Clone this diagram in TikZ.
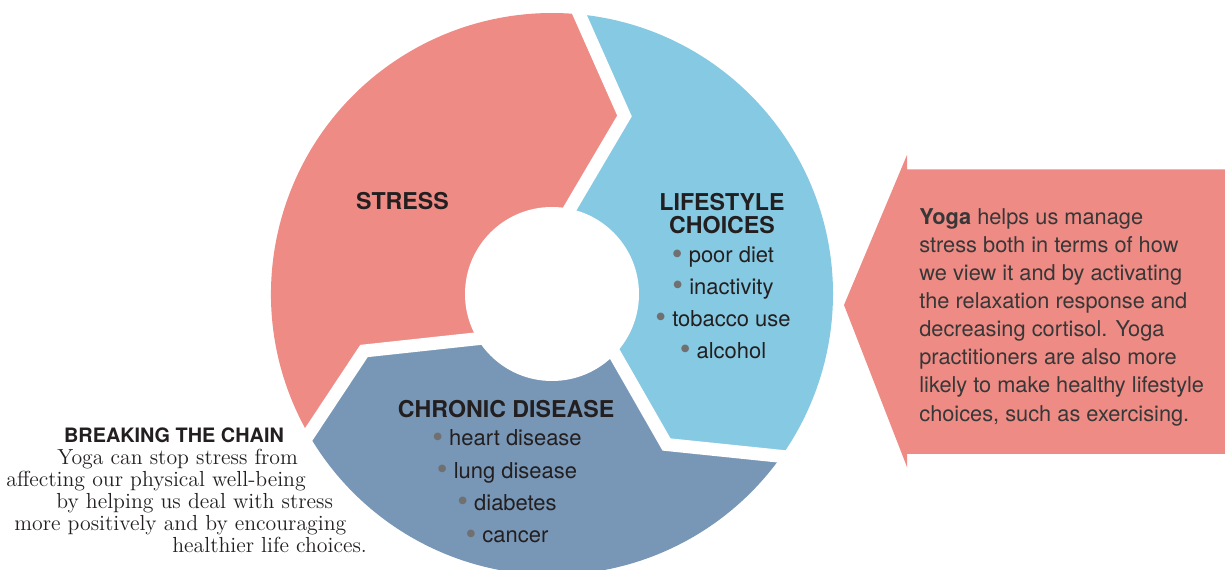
\documentclass[tikz,border=0pt]{standalone}
\usepackage{fontspec}
\setsansfont{TeX Gyre Heros}
\usetikzlibrary{calc}
\definecolor{strred}{RGB}{239,139,133}
\definecolor{lifblu}{RGB}{134,201,226}
\definecolor{disblu}{RGB}{120,151,182}
\definecolor{ink}{RGB}{35,31,32}
\definecolor{dotgry}{RGB}{112,112,112}
\definecolor{txtgry}{RGB}{55,55,55}
\newcommand{\itembul}{{\color{dotgry}\raisebox{-0.12ex}{\scalebox{1.4}{\textbullet}}}\ }
\tikzset{
  hdr/.style={font=\sffamily\bfseries\fontsize{13.2}{15.4}\selectfont,text=ink,
              inner sep=0pt,align=center},
  sub/.style={font=\sffamily\bfseries\fontsize{11.3}{13}\selectfont,text=ink,inner sep=0pt},
  itm/.style={font=\sffamily\fontsize{12.5}{15}\selectfont,text=ink,inner sep=0pt,anchor=mid},
  body/.style={font=\sffamily\fontsize{12.4}{16}\selectfont,text=txtgry,
               inner sep=0pt,align=left},
  srf/.style={font=\fontsize{12.4}{14}\selectfont,text=ink,inner sep=0pt,anchor=mid west},
  gap/.style={draw=white,line width=0.26cm,line join=miter,miter limit=10},
}

\begin{document}
\begin{tikzpicture}[x=0.02cm,y=-0.02cm]
  \useasboundingbox (0,0) rectangle (1225,570);
  % ring: centre, outer points, tips, inner points of the three joints
  \coordinate (C) at (552,294);
  \coordinate (O1) at ($(C)+(275.6:281)$);
  \coordinate (O2) at ($(C)+(35.3:281)$);
  \coordinate (O3) at ($(C)+(150:281)$);
  \coordinate (T1) at (624.5,116);
  \coordinate (T2) at (666.5,444.5);
  \coordinate (T3) at (364,351);
  \coordinate (X1) at ($(T1)!1.6!(570,208.5)$);
  \coordinate (X2) at ($(T2)!1.6!(615,354.5)$);
  \coordinate (X3) at ($(T3)!1.6!(475,339)$);
  \fill[strred] (O3) arc[start angle=150,end angle=275.6,radius=281]
    -- (T1) -- (X1) -- (C) -- (X3) -- (T3) -- cycle;
  \fill[lifblu] (O1) arc[start angle=275.6,end angle=395.3,radius=281]
    -- (T2) -- (X2) -- (C) -- (X1) -- (T1) -- cycle;
  \fill[disblu] (O2) arc[start angle=35.3,end angle=150,radius=281]
    -- (T3) -- (X3) -- (C) -- (X2) -- (T2) -- cycle;
  \fill[white] (C) circle[radius=87];
  % white joints
  \draw[gap] ($(T1)!1.3!(O1)$) -- (T1) -- (X1);
  \draw[gap] ($(T2)!1.3!(O2)$) -- (T2) -- (X2);
  \draw[gap] ($(T3)!1.3!(O3)$) -- (T3) -- (X3);
  % right: yoga arrow
  \fill[strred] (1225,169.3) -- (907,169.3) -- (907,155) -- (844,305)
    -- (907,467) -- (907,454) -- (1225,454) -- cycle;
  % ring labels
  \node[hdr] (stress) at (402.5,201) {STRESS};
  \node[hdr] (life) at (722,202) {LIFESTYLE};
  \node[hdr] (choice) at (722,225) {CHOICES};
  \foreach \t [count=\i] in {poor diet,inactivity,tobacco use,alcohol}
    \node[itm] (life\i) at (723,{259+31.8*(\i-1)}) {\itembul\t};
  \node[hdr] (chronic) at (506,409) {CHRONIC DISEASE};
  \foreach \t [count=\i] in {heart disease,lung disease,diabetes,cancer}
    \node[itm] (dis\i) at (507,{442+32.3*(\i-1)}) {\itembul\t};
  % arrow text
  \node[body,anchor=north west] (yoga) at (919,208)
    {\textbf{Yoga} helps us manage\\stress both in terms of how\\
     we view it and by activating\\the relaxation response and\\
     decreasing cortisol. Yoga\\practitioners are also more\\
     likely to make healthy lifestyle\\choices, such as exercising.};
  % left: caption
  \node[sub] (chain) at (174,435) {BREAKING THE CHAIN};
  \node[srf] (ln1) at (57,461) {Yoga can stop stress from};
  \node[srf] (ln2) at (6,483) {affecting our physical well-being};
  \node[srf] (ln3) at (56,505) {by helping us deal with stress};
  \node[srf] (ln4) at (14,527) {more positively and by encouraging};
  \node[srf] (ln5) at (172,549) {healthier life choices.};
\end{tikzpicture}
\end{document}
